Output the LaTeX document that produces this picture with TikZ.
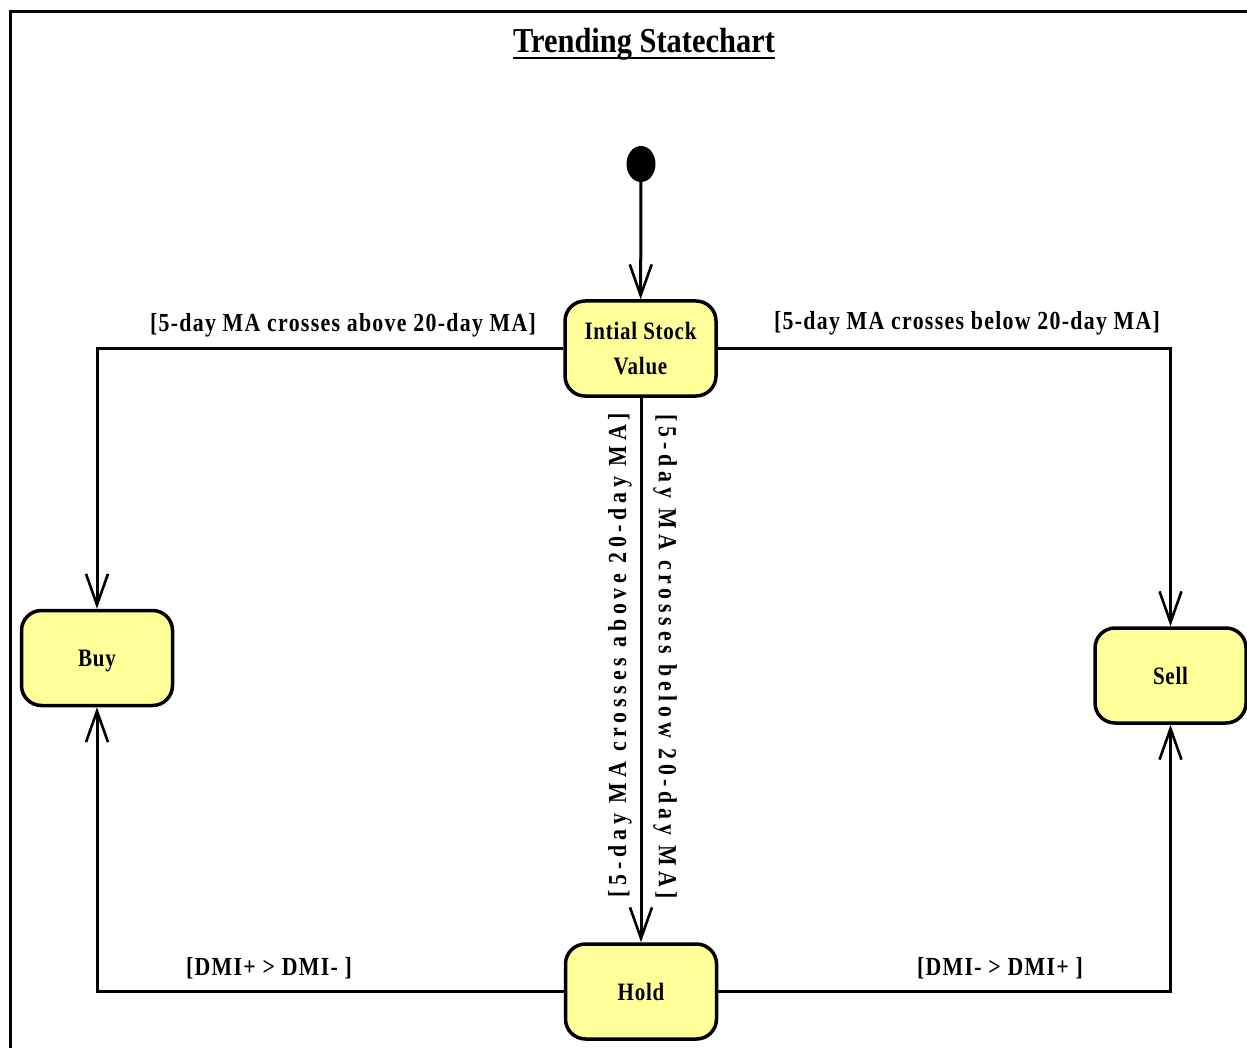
\documentclass[tikz,border=0pt]{standalone}
\usepackage{fontspec}
\setmainfont{Liberation Serif}
\newfontfamily\cfont[FakeStretch=0.84,LetterSpace=3]{Liberation Serif}
\newfontfamily\gfont[FakeStretch=0.84,LetterSpace=5]{Liberation Serif}
\newfontfamily\tfont[FakeStretch=0.87]{Liberation Serif}
\newfontfamily\vfont[FakeStretch=0.84,LetterSpace=18.5]{Liberation Serif}
\usetikzlibrary{arrows.meta,shapes.geometric}
\definecolor{statefill}{HTML}{FFFF99}
\tikzset{
  state/.style={draw=black, line width=3.5pt, fill=statefill, rounded corners=20pt,
    minimum width=151pt, minimum height=95pt, inner sep=0pt, align=center,
    font=\cfont\bfseries\fontsize{25}{35}\selectfont},
  initstate/.style={ellipse, fill=black, minimum width=29pt, minimum height=36pt, inner sep=0pt},
  trans/.style={line width=3pt, -{Straight Barb[length=31pt,width=22pt,line width=2.6pt]}},
  guard/.style={inner sep=0pt, font=\gfont\bfseries\fontsize{26}{30}\selectfont},
  vguard/.style={inner sep=0pt, font=\vfont\bfseries\fontsize{26}{30}\selectfont},
  frame/.style={line width=3pt}
}
\begin{document}
\begin{tikzpicture}[x=1pt,y=-1pt]
\clip (0,0) rectangle (1247,1048);
\fill[white] (0,0) rectangle (1247,1048);
\draw[frame] (10,12) rectangle (1300,1100);

\node[inner sep=0pt, anchor=base, font=\tfont\bfseries\fontsize{35}{40}\selectfont] (title) at (644,53) {Trending Statechart};
\draw[line width=2pt] ([yshift=-5pt]title.base west) -- ([yshift=-5pt]title.base east);

\node[initstate] (init) at (641,164) {};
\node[state, text depth=-4pt] (isv) at (640.5,348.5) {Intial Stock\\Value};
\node[state, text depth=-3pt] (buy) at (97,658) {Buy};
\node[state] (sell) at (1170.5,675.5) {Sell};
\node[state, text depth=-5pt] (hold) at (641,991.5) {Hold};

\draw[trans] (init) -- (isv);
\draw[trans] (isv.west) -| (buy.north);
\draw[trans] (isv.east) -| (sell.north);
\draw[trans] (isv.south -| hold.north) -- (hold.north);
\draw[trans] (hold.west) -| (buy.south);
\draw[trans] (hold.east) -| (sell.south);

\node[guard] (g1) at (343,325) {[5-day MA crosses above 20-day MA]};
\node[guard] (g2) at (967,323) {[5-day MA crosses below 20-day MA]};
\node[guard] (g3) at (269,968) {[DMI+ > DMI- ]};
\node[guard] (g4) at (1000,968) {[DMI- > DMI+ ]};
\node[vguard, rotate=90] (g5) at (620,655) {[5-day MA crosses above 20-day MA]};
\node[vguard, rotate=-90] (g6) at (665,657) {[5-day MA crosses below 20-day MA]};
\end{tikzpicture}
\end{document}
